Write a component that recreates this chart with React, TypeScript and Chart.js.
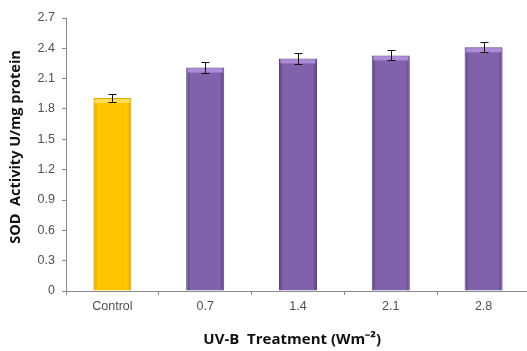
import React, { useEffect, useRef } from "react";
import { Chart, registerables } from "chart.js";

Chart.register(...registerables);

const categories = ["Control", "0.7", "1.4", "2.1", "2.8"];
const sodValues = [1.91, 2.21, 2.3, 2.33, 2.41];
const sodErrors = [0.04, 0.05, 0.05, 0.05, 0.05];
const barFill = ["#FFC600", "#8061AB", "#8061AB", "#8061AB", "#8061AB"];
const barEdge = ["#D9A300", "#5E447F", "#5E447F", "#5E447F", "#5E447F"];
const barCap = ["#FFDD55", "#AA8CD8", "#AA8CD8", "#AA8CD8", "#AA8CD8"];
const yMin = 0;
const yMax = 2.7;
const yStep = 0.3;
const barPct = 0.41;

const capPlugin = {
  id: "barCaps",
  afterDatasetsDraw(chart: any) {
    const ctx = chart.ctx;
    const meta = chart.getDatasetMeta(0);
    const yScale = chart.scales.y;
    ctx.save();
    meta.data.forEach((bar: any, i: number) => {
      const p = bar.getProps(["x", "y", "width"], true);
      ctx.fillStyle = barCap[i];
      ctx.fillRect(p.x - p.width / 2 + 1.5, p.y + 1, p.width - 3, 4);
    });
    ctx.strokeStyle = "#111";
    ctx.lineWidth = 1;
    meta.data.forEach((bar: any, i: number) => {
      const p = bar.getProps(["x"], true);
      const x = Math.round(p.x) + 0.5;
      const top = Math.round(yScale.getPixelForValue(sodValues[i] + sodErrors[i])) + 0.5;
      const bot = Math.round(yScale.getPixelForValue(sodValues[i] - sodErrors[i])) + 0.5;
      ctx.beginPath();
      ctx.moveTo(x, top);
      ctx.lineTo(x, bot);
      ctx.moveTo(x - 4, top);
      ctx.lineTo(x + 4, top);
      ctx.moveTo(x - 4, bot);
      ctx.lineTo(x + 4, bot);
      ctx.stroke();
    });
    ctx.restore();
  },
};

export default function App() {
  const ref = useRef<HTMLCanvasElement | null>(null);

  useEffect(() => {
    if (!ref.current) return;
    const chart = new Chart(ref.current, {
      type: "bar",
      data: {
        labels: categories,
        datasets: [
          {
            data: sodValues,
            backgroundColor: (c: any) => {
              const i = c.dataIndex ?? 0;
              const area = c.chart.chartArea;
              const xs = c.chart.scales && c.chart.scales.x;
              if (!area || !xs) return barFill[i];
              const cx = xs.getPixelForValue(i);
              const w = ((area.right - area.left) / categories.length) * barPct;
              if (!Number.isFinite(cx) || !Number.isFinite(w)) return barFill[i];
              const ctx = c.chart.ctx;
              const g = ctx.createLinearGradient(cx - w / 2, 0, cx + w / 2, 0);
              g.addColorStop(0, barEdge[i]);
              g.addColorStop(0.12, barFill[i]);
              g.addColorStop(0.88, barFill[i]);
              g.addColorStop(1, barEdge[i]);
              return g;
            },
            borderColor: barEdge,
            borderWidth: 1,
            barPercentage: barPct,
            categoryPercentage: 1,
          },
        ],
      },
      options: {
        responsive: false,
        animation: false,
        layout: { padding: { top: 18, right: 2, bottom: 0, left: 0 } },
        plugins: { legend: { display: false }, tooltip: { enabled: false } },
        scales: {
          x: {
            afterFit: (s: any) => {
              s.height = 60;
            },
            grid: {
              offset: true,
              drawOnChartArea: false,
              drawTicks: true,
              tickLength: 4,
              color: "#8A8A8A",
            },
            border: { display: true, color: "#8A8A8A" },
            ticks: {
              color: "#505050",
              font: { family: "'Liberation Sans', Arial, sans-serif", size: 12.5 },
              padding: 4,
              maxRotation: 0,
            },
            title: {
              display: true,
              text: "UV-B  Treatment (Wm⁻²)   ",
              color: "#111",
              font: { family: "'Open Sans', sans-serif", size: 15, weight: "bold" },
              padding: { top: 0, bottom: 2 },
            },
          },
          y: {
            min: yMin,
            max: yMax,
            afterFit: (s: any) => {
              s.width = 66;
            },
            grid: {
              drawOnChartArea: false,
              drawTicks: true,
              tickLength: 4,
              color: "#8A8A8A",
            },
            border: { display: true, color: "#8A8A8A" },
            ticks: {
              stepSize: yStep,
              color: "#505050",
              font: { family: "'Liberation Sans', Arial, sans-serif", size: 12.5 },
              padding: 7,
              callback: (v: any) => String(Number(Number(v).toFixed(1))),
            },
            title: {
              display: true,
              text: "    SOD  Activity U/mg protein",
              color: "#111",
              font: { family: "'Open Sans', sans-serif", size: 14.5, weight: "bold" },
              padding: { top: 7, bottom: 0 },
            },
          },
        },
      },
      plugins: [capPlugin],
    });
    return () => chart.destroy();
  }, []);

  return (
    <div
      style={{
        position: "absolute",
        left: 0,
        top: 0,
        width: 527,
        height: 351,
        overflow: "hidden",
        background: "#fff",
      }}
    >
      <canvas ref={ref} width={532} height={351} style={{ display: "block" }} />
    </div>
  );
}
